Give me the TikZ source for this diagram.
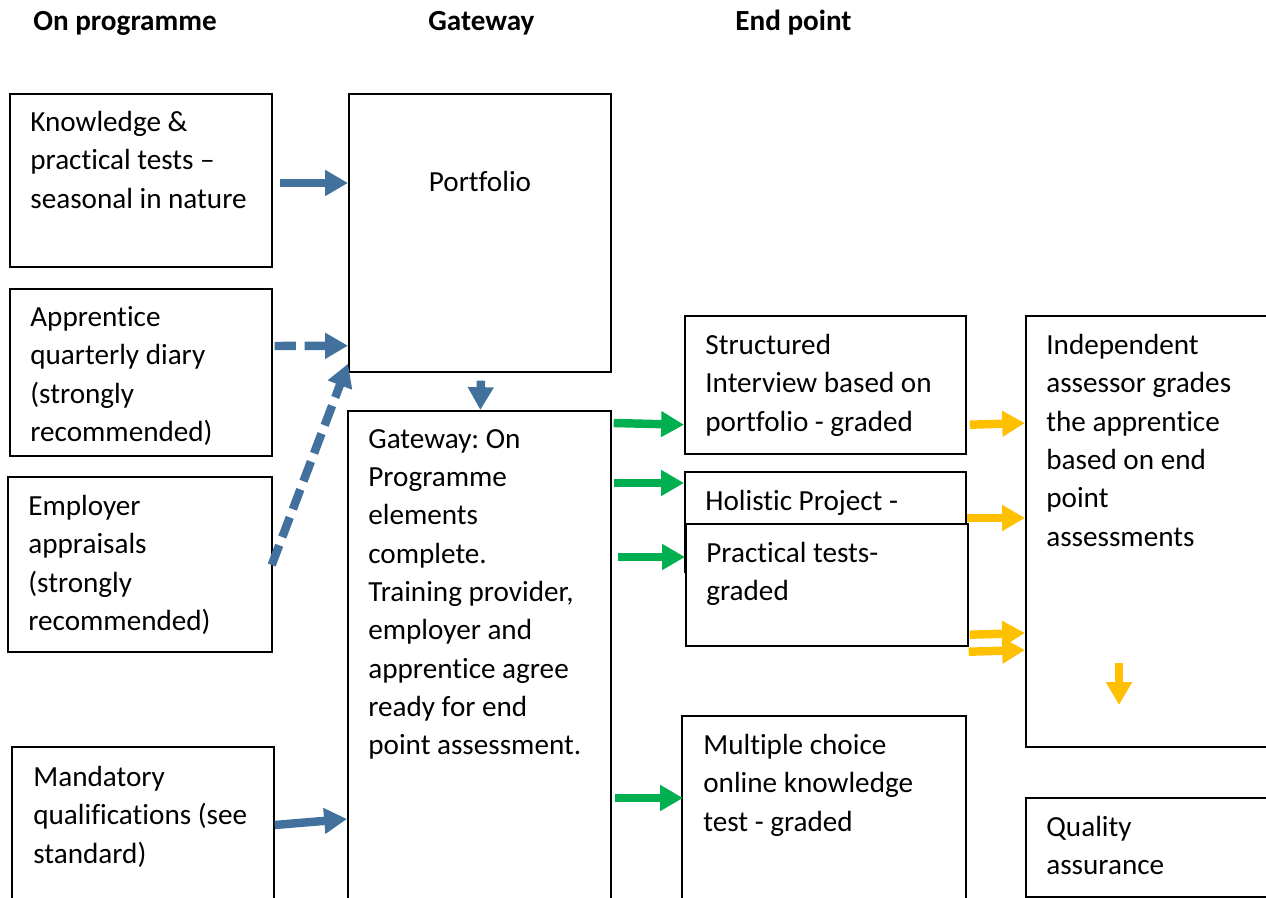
\documentclass[tikz,border=0pt]{standalone}
\usepackage{fontspec}
\setmainfont{Carlito}[Ligatures=CommonOff]
\usetikzlibrary{arrows.meta, calc}
\frenchspacing

\definecolor{arrowblue}{RGB}{65,113,156}
\definecolor{arrowgreen}{RGB}{0,176,80}
\definecolor{arrowyellow}{RGB}{255,192,0}

\tikzset{
    box/.style={draw, line width=1pt, fill=white, anchor=north west, inner sep=0pt},
    txt/.style={anchor=north west, align=left, inner sep=0pt, font=\fontsize{16.6}{21.8}\selectfont, execute at begin node=\strut},
    heading/.style={anchor=base west, inner sep=0pt, font=\fontsize{16.6}{21.8}\selectfont\bfseries},
    fat/.style={line width=4.8pt, -{Triangle[length=13pt, width=14pt]}},
    fatdash/.style={fat, dash pattern=on 12pt off 5pt},
}

\begin{document}
\begin{tikzpicture}[x=0.02cm, y=-0.02cm]

        \useasboundingbox (0,0) rectangle (1266,898);
        \clip (0,0) rectangle (1266,898);

        % column headings
        \node[heading] (h_prog) at (33, 31) {On programme};
        \node[heading] (h_gate) at (428, 31) {Gateway};
        \node[heading] (h_end) at (735, 31) {End point};

        % on programme
        \node[box, minimum width=5.24cm, minimum height=3.46cm] (know) at (9, 93) {};
        \node[txt] (know_txt) at (30, 111) {Knowledge \&\\practical tests –\\seasonal in nature};
        \node[box, minimum width=5.24cm, minimum height=3.34cm] (diary) at (9, 288) {};
        \node[txt] (diary_txt) at (30, 306) {Apprentice\\quarterly diary\\(strongly\\recommended)};
        \node[box, minimum width=5.28cm, minimum height=3.5cm] (empl) at (7, 476) {};
        \node[txt] (empl_txt) at (28, 495) {Employer\\appraisals\\(strongly\\recommended)};
        \node[box, minimum width=5.24cm, minimum height=4cm] (mand) at (11, 746) {};
        \node[txt] (mand_txt) at (33, 766) {Mandatory\\qualifications (see\\standard)};

        % gateway
        \node[box, minimum width=5.24cm, minimum height=5.56cm] (port) at (348, 93) {};
        \node[txt, anchor=base] (port_txt) at (480, 192) {Portfolio};
        \node[box, minimum width=5.26cm, minimum height=10.4cm] (gate) at (347, 410) {};
        \node[txt] (gate_txt) at (368, 429) {Gateway: On\\Programme\\elements\\complete.\\Training provider,\\employer and\\apprentice agree\\ready for end\\point assessment.};

        % end point
        \node[box, minimum width=5.62cm, minimum height=2.76cm] (struct) at (684, 315) {};
        \node[txt] (struct_txt) at (705, 334) {Structured\\Interview based on\\portfolio - graded};
        \node[box, minimum width=5.62cm, minimum height=2cm] (holis) at (684, 471) {};
        \node[txt] (holis_txt) at (705, 483) {Holistic Project -};
        \node[box, minimum width=5.64cm, minimum height=2.44cm] (pract) at (685, 523) {};
        \node[txt] (pract_txt) at (706, 542) {Practical tests-\\graded};
        \node[box, minimum width=5.68cm, minimum height=4cm] (multi) at (681, 715) {};
        \node[txt] (multi_txt) at (703, 734) {Multiple choice\\online knowledge\\test - graded};

        \node[box, minimum width=4.82cm, minimum height=8.62cm] (indep) at (1025, 315) {};
        \node[txt] (indep_txt) at (1046, 334) {Independent\\assessor grades\\the apprentice\\based on end\\point\\assessments};
        \node[box, minimum width=4.82cm, minimum height=1.98cm] (qual) at (1025, 797) {};
        \node[txt] (qual_txt) at (1046, 816) {Quality\\assurance};

        % blue arrows into the gateway
        \draw[fat, arrowblue] ($(know.north east)+(7,90)$) -- ($(port.north west)+(0,90)$);
        \draw[fatdash, arrowblue] ($(diary.north east)+(2,58)$) -- ($(port.south west)+(0,-27)$);
        \draw[fatdash, arrowblue] ($(empl.north east)+(-1,89)$) -- ($(port.south west)+(0,-9)$);
        \draw[fat, arrowblue] ($(port.south)+(1,8)$) -- ($(gate.north)+(1,0)$);
        \draw[fat, arrowblue] ($(mand.north east)+(0,79)$) -- ($(gate.north west)+(0,409)$);

        % green arrows to the end point
        \draw[fat, arrowgreen] ($(gate.north east)+(2,13)$) -- ($(struct.south west)+(0,-30)$);
        \draw[fat, arrowgreen] ($(gate.north east)+(2,73)$) -- ($(holis.north west)+(0,12)$);
        \draw[fat, arrowgreen] ($(gate.north east)+(6,147)$) -- ($(pract.north west)+(0,34)$);
        \draw[fat, arrowgreen] ($(gate.north east)+(3,388)$) -- ($(multi.north west)+(2,83)$);

        % yellow arrows to the assessor
        \draw[fat, arrowyellow] ($(struct.south east)+(3,-30)$) -- ($(indep.north west)+(0,108)$);
        \draw[fat, arrowyellow] ($(holis.north east)+(0,47)$) -- ($(indep.north west)+(0,203)$);
        \draw[fat, arrowyellow] ($(pract.south east)+(1,-12)$) -- ($(indep.north west)+(0,318)$);
        \draw[fat, arrowyellow] ($(pract.south east)+(0,5)$) -- ($(indep.north west)+(0,335)$);
        \draw[fat, arrowyellow] ($(indep.north west)+(94,348)$) -- ($(indep.north west)+(94,390)$);

    \end{tikzpicture}
\end{document}
